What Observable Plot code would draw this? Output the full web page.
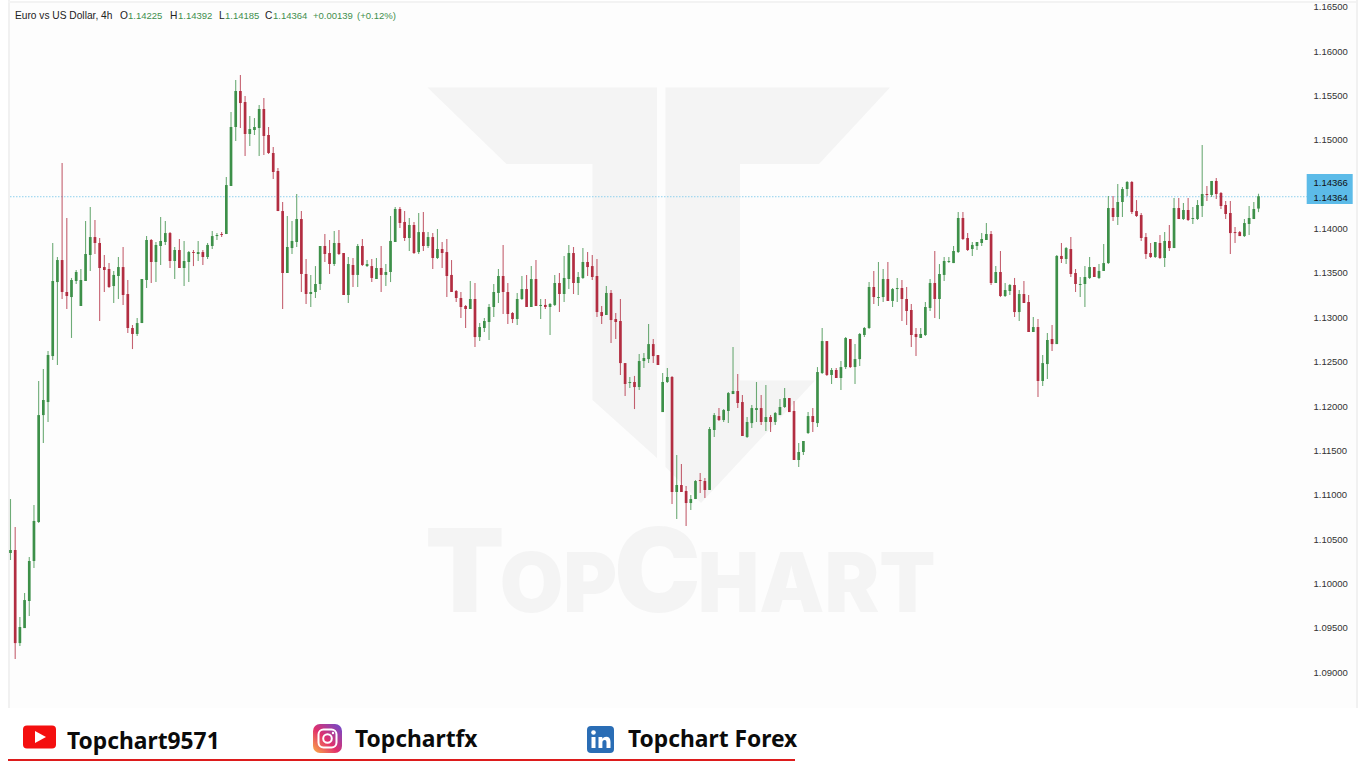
<!DOCTYPE html>
<html>
<head>
<meta charset="utf-8">
<script src="https://cdn.jsdelivr.net/npm/d3@7"></script>
<script src="https://cdn.jsdelivr.net/npm/@observablehq/plot@0.6"></script>
<style>
html,body{margin:0;padding:0;background:#fff;overflow:hidden}
#page{position:relative;width:1366px;height:768px;overflow:hidden;background:#fff}
#bg,#chart,#footer{position:absolute;left:0;top:0}
#chart svg{display:block;background:transparent;max-width:none}
.hd{position:absolute;top:10px;font:9.5px/11px "Liberation Sans",sans-serif;color:#222;white-space:pre}
.hd.g{color:#3f8f4d}
.ft{position:absolute;font:700 22.8px/30px "Noto Sans",sans-serif;color:#0b0b0b;white-space:pre}
</style>
</head>
<body>
<div id="page">
<svg id="bg" width="1366" height="768">
  <rect x="10" y="3" width="1346" height="705" fill="#fdfdfd"/>
  <rect x="8" y="0" width="2" height="708" fill="#f1f1f1"/>
  <rect x="8" y="1" width="1350" height="2" fill="#f3f3f3"/>
  <rect x="1356" y="0" width="2" height="708" fill="#f1f1f1"/>
  <g fill="#f4f4f4">
    <polygon points="427.5,87.5 657,87.5 657,458 592.5,400 592.5,164 506.5,164"/>
    <polygon points="665.5,87.5 890,87.5 819,164 740,164 740,380.5 815,380.5 701,503 665.5,467"/>
    <text x="425" y="612" font-family="Inter,'Noto Sans',sans-serif" font-weight="900" font-size="116">T<tspan font-size="82" dx="-5">OP</tspan><tspan font-size="116" dx="-3">C</tspan><tspan font-size="82" dx="-3">HART</tspan></text>
  </g>
  <rect x="1306.7" y="174" width="46" height="30" fill="#5cbbe8"/>
  <rect x="0" y="708" width="1366" height="60" fill="#fff"/>
</svg>
<div id="chart"></div>
<div id="header">
  <span class="hd" style="left:15px;font-size:10.2px">Euro vs US Dollar, 4h</span>
  <span class="hd" style="left:120px;font-size:10.2px">O</span><span class="hd g" style="left:128px">1.14225</span>
  <span class="hd" style="left:170px;font-size:10.2px">H</span><span class="hd g" style="left:178px">1.14392</span>
  <span class="hd" style="left:219px;font-size:10.2px">L</span><span class="hd g" style="left:225px">1.14185</span>
  <span class="hd" style="left:265px;font-size:10.2px">C</span><span class="hd g" style="left:273px">1.14364</span>
  <span class="hd g" style="left:313px">+0.00139</span><span class="hd g" style="left:357px">(+0.12%)</span>
</div>
<svg id="footer" width="1366" height="768" style="pointer-events:none">
  <rect x="23" y="725.5" width="33" height="23" rx="4" fill="#f40f0f"/>
  <polygon points="35,731 35,743 46,737" fill="#fff"/>
  <defs><linearGradient id="ig" x1="0" y1="1" x2="1" y2="0">
    <stop offset="0" stop-color="#fcb045"/><stop offset="0.45" stop-color="#e1306c"/><stop offset="1" stop-color="#6a4bd0"/>
  </linearGradient></defs>
  <rect x="313" y="724" width="29" height="29" rx="7" fill="url(#ig)"/>
  <rect x="318.5" y="729.5" width="18" height="18" rx="5" fill="none" stroke="#fff" stroke-width="2"/>
  <circle cx="327.5" cy="738.5" r="4.3" fill="none" stroke="#fff" stroke-width="2"/>
  <circle cx="333" cy="733" r="1.2" fill="#fff"/>
  <rect x="587" y="726" width="27" height="27" rx="4" fill="#2a6db5"/>
  <rect x="591.5" y="737" width="4" height="11" fill="#fff"/>
  <circle cx="593.5" cy="732.5" r="2.3" fill="#fff"/>
  <path d="M598.5 737h3.8v1.8c1-1.4 2.3-2.1 3.8-2.1 3 0 4.4 1.9 4.4 5.2V748h-4v-5.6c0-1.7-.6-2.5-1.9-2.5-1.400 0-2.200 1-2.200 2.600V748h-3.900z" fill="#fff"/>
  <rect x="8" y="759" width="787" height="2" fill="#dd1c1c"/>
</svg>
<span class="ft" style="left:67px;top:726px">Topchart9571</span>
<span class="ft" style="left:355px;top:724px">Topchartfx</span>
<span class="ft" style="left:628px;top:724px">Topchart Forex</span>
</div>
<script>
const open=[1.10344,1.10378,1.09329,1.09498,1.09803,1.10254,1.10693,1.11898,1.12045,1.12563,
1.13397,1.13645,1.13285,1.13228,1.13409,1.13127,1.13409,1.13702,1.13904,1.13837,
1.13566,1.13544,1.13352,1.13465,1.13566,1.13262,1.12879,1.12812,1.12935,1.13420,
1.13871,1.13623,1.13803,1.13848,1.13949,1.13634,1.13758,1.13555,1.13623,1.13735,
1.13713,1.13735,1.13679,1.13803,1.13915,1.13938,1.13938,1.14479,1.15144,1.15550,
1.15426,1.15065,1.15110,1.15133,1.15347,1.15054,1.14851,1.14648,1.14197,1.13499,
1.13780,1.13848,1.14107,1.13488,1.13262,1.13285,1.13375,1.13803,1.13724,1.13600,
1.13837,1.13724,1.13251,1.13589,1.13477,1.13803,1.13577,1.13577,1.13431,1.13555,
1.13477,1.13510,1.13848,1.14220,1.14074,1.13893,1.14040,1.13735,1.13960,1.13803,
1.13904,1.13668,1.13769,1.13735,1.13477,1.13296,1.13217,1.13127,1.13093,1.13206,
1.12777,1.12879,1.12947,1.13116,1.13274,1.13465,1.13285,1.13048,1.12980,1.13206,
1.13318,1.13116,1.13431,1.13127,1.13139,1.13116,1.13139,1.13386,1.13262,1.13431,
1.13724,1.13386,1.13443,1.13623,1.13577,1.13465,1.13059,1.13026,1.13274,1.12980,
1.12958,1.12484,1.12259,1.12271,1.12214,1.12507,1.12529,1.12698,1.12575,1.11932,
1.12271,1.12327,1.11031,1.11110,1.11043,1.10907,1.10952,1.11166,1.11155,1.11054,
1.11730,1.11887,1.11842,1.11944,1.12135,1.12169,1.12045,1.11651,1.11808,1.11955,
1.11977,1.11820,1.11876,1.11820,1.11898,1.11989,1.12090,1.11944,1.11392,1.11482,
1.11696,1.11887,1.11808,1.12372,1.12732,1.12350,1.12406,1.12316,1.12439,1.12755,
1.12439,1.12529,1.12800,1.12879,1.13341,1.13217,1.13228,1.13431,1.13184,1.13318,
1.13330,1.13206,1.13082,1.12812,1.12767,1.12800,1.13105,1.13386,1.13206,1.13477,
1.13623,1.13611,1.13735,1.14119,1.13893,1.13769,1.13803,1.13837,1.13871,1.13938,
1.13386,1.13510,1.13240,1.13296,1.13364,1.13059,1.13262,1.13172,1.12834,1.12890,
1.12282,1.12473,1.12755,1.12698,1.13691,1.13657,1.13769,1.13499,1.13364,1.13375,
1.13443,1.13566,1.13443,1.13522,1.13611,1.14231,1.14130,1.14299,1.14445,1.14524,
1.14197,1.14152,1.13904,1.13724,1.13679,1.13837,1.13668,1.13860,1.13780,1.14231,
1.14107,1.14209,1.14107,1.14107,1.14254,1.14389,1.14378,1.14536,1.14400,1.14265,
1.14175,1.13960,1.13960,1.13915,1.14051,1.14107,1.14225];
const close=[1.10378,1.09329,1.09510,1.09814,1.10254,1.10705,1.11898,1.12068,1.12575,1.13409,
1.13645,1.13285,1.13240,1.13420,1.13510,1.13420,1.13713,1.13904,1.13837,1.13555,
1.13533,1.13341,1.13477,1.13566,1.13251,1.12879,1.12812,1.12935,1.13431,1.13871,
1.13623,1.13815,1.13860,1.13949,1.13634,1.13758,1.13555,1.13634,1.13735,1.13724,
1.13735,1.13679,1.13815,1.13915,1.13927,1.13927,1.14490,1.15144,1.15550,1.15414,
1.15065,1.15121,1.15144,1.15347,1.15043,1.14851,1.14637,1.14197,1.13499,1.13792,
1.13860,1.14107,1.13488,1.13262,1.13285,1.13375,1.13803,1.13713,1.13600,1.13837,
1.13713,1.13251,1.13600,1.13477,1.13803,1.13589,1.13600,1.13443,1.13555,1.13477,
1.13510,1.13860,1.14220,1.14062,1.13893,1.14040,1.13724,1.13960,1.13803,1.13904,
1.13668,1.13769,1.13724,1.13465,1.13285,1.13217,1.13116,1.13093,1.13206,1.12777,
1.12890,1.12958,1.13116,1.13285,1.13465,1.13285,1.13037,1.12980,1.13206,1.13318,
1.13116,1.13431,1.13127,1.13139,1.13116,1.13150,1.13386,1.13262,1.13443,1.13724,
1.13386,1.13454,1.13623,1.13566,1.13454,1.13059,1.13014,1.13274,1.12969,1.12947,
1.12484,1.12248,1.12271,1.12214,1.12507,1.12541,1.12698,1.12563,1.12462,1.12271,
1.12327,1.11031,1.11110,1.11031,1.10907,1.10952,1.11155,1.11155,1.11054,1.11741,
1.11898,1.11842,1.11955,1.12146,1.12169,1.12034,1.11662,1.11820,1.11977,1.11977,
1.11820,1.11876,1.11820,1.11921,1.11989,1.12090,1.11932,1.11392,1.11482,1.11606,
1.11887,1.11820,1.12383,1.12732,1.12350,1.12406,1.12316,1.12439,1.12767,1.12439,
1.12529,1.12812,1.12879,1.13341,1.13228,1.13228,1.13431,1.13184,1.13318,1.13330,
1.13206,1.13071,1.12800,1.12777,1.12812,1.13116,1.13386,1.13206,1.13488,1.13634,
1.13634,1.13747,1.14119,1.13882,1.13758,1.13815,1.13848,1.13882,1.13938,1.13386,
1.13510,1.13240,1.13307,1.13364,1.13059,1.13262,1.13161,1.12834,1.12890,1.12282,
1.12484,1.12744,1.12698,1.13691,1.13657,1.13780,1.13488,1.13375,1.13375,1.13454,
1.13566,1.13454,1.13522,1.13611,1.14231,1.14130,1.14299,1.14445,1.14524,1.14186,
1.14141,1.13893,1.13713,1.13679,1.13848,1.13668,1.13860,1.13780,1.14231,1.14107,
1.14209,1.14096,1.14119,1.14265,1.14389,1.14378,1.14536,1.14389,1.14254,1.14164,
1.13949,1.13949,1.13915,1.14062,1.14119,1.14220,1.14364];
const high=[1.10952,1.10637,1.09622,1.09893,1.10299,1.10885,1.12282,1.12417,1.12620,1.13837,
1.13679,1.14738,1.14119,1.13443,1.13533,1.13544,1.14085,1.14242,1.14096,1.13893,
1.13702,1.13611,1.13522,1.13679,1.13792,1.13420,1.12913,1.12992,1.13431,1.13915,
1.13882,1.13848,1.14130,1.14085,1.13960,1.13792,1.13882,1.13860,1.13747,1.13758,
1.13860,1.13758,1.13837,1.13972,1.13949,1.13960,1.14580,1.15313,1.15674,1.15730,
1.15493,1.15268,1.15245,1.15392,1.15471,1.15144,1.14919,1.14682,1.14298,1.14141,
1.14085,1.14389,1.14197,1.13657,1.13477,1.13577,1.13803,1.13938,1.13871,1.13972,
1.13983,1.13724,1.13679,1.13668,1.13826,1.13882,1.13645,1.13657,1.13668,1.13803,
1.13600,1.14141,1.14242,1.14242,1.14197,1.14119,1.14074,1.14175,1.14186,1.13960,
1.13949,1.13994,1.13848,1.13882,1.13645,1.13307,1.13285,1.13139,1.13409,1.13386,
1.12935,1.12992,1.13150,1.13375,1.13544,1.13815,1.13386,1.13059,1.13274,1.13465,
1.13477,1.13577,1.13645,1.13206,1.13206,1.13161,1.13477,1.13499,1.13691,1.13815,
1.13792,1.13510,1.13780,1.13735,1.13702,1.13657,1.13127,1.13352,1.13307,1.13048,
1.13206,1.12484,1.12327,1.12339,1.12586,1.12597,1.12924,1.12755,1.12575,1.12372,
1.12428,1.12339,1.11448,1.11347,1.11099,1.10998,1.11166,1.11245,1.11189,1.11764,
1.11921,1.11977,1.11966,1.12158,1.12665,1.12361,1.12124,1.11876,1.12011,1.12271,
1.12124,1.12237,1.11898,1.11932,1.12079,1.12203,1.12090,1.12056,1.11583,1.11606,
1.11932,1.11977,1.12439,1.12879,1.12732,1.12428,1.12428,1.12507,1.12777,1.12755,
1.12698,1.12823,1.12890,1.13397,1.13522,1.13623,1.13544,1.13623,1.13330,1.13443,
1.13420,1.13341,1.13150,1.12879,1.12879,1.13172,1.13431,1.13747,1.13600,1.13679,
1.13679,1.13803,1.14186,1.14186,1.13949,1.13848,1.13848,1.13949,1.14062,1.13972,
1.13577,1.13747,1.13386,1.13375,1.13443,1.13307,1.13409,1.13251,1.13003,1.12980,
1.12575,1.12823,1.12913,1.13702,1.13837,1.13792,1.13904,1.13544,1.13454,1.13577,
1.13679,1.13566,1.13600,1.13826,1.14366,1.14366,1.14502,1.14468,1.14536,1.14536,
1.14321,1.14175,1.13949,1.13837,1.13848,1.13927,1.13960,1.14040,1.14344,1.14344,
1.14288,1.14344,1.14242,1.14321,1.14941,1.14479,1.14536,1.14570,1.14411,1.14310,
1.14310,1.14017,1.13972,1.14107,1.14253,1.14299,1.14392];
const low=[1.10265,1.09149,1.09296,1.09498,1.09634,1.10175,1.10682,1.11583,1.11820,1.12518,
1.12462,1.13206,1.13093,1.12767,1.13375,1.13127,1.13409,1.13522,1.13713,1.12958,
1.13285,1.13330,1.13161,1.13206,1.13139,1.12823,1.12642,1.12789,1.12935,1.13330,
1.13386,1.13397,1.13589,1.13815,1.13555,1.13431,1.13555,1.13352,1.13397,1.13577,
1.13634,1.13589,1.13657,1.13769,1.13871,1.13904,1.13938,1.14479,1.14986,1.15133,
1.14817,1.14930,1.15054,1.14817,1.14828,1.14840,1.14558,1.14197,1.13093,1.13499,
1.13713,1.13792,1.13285,1.13150,1.13116,1.13217,1.13307,1.13623,1.13488,1.13577,
1.13702,1.13251,1.13161,1.13341,1.13341,1.13577,1.13566,1.13397,1.13431,1.13285,
1.13352,1.13397,1.13848,1.14006,1.13860,1.13747,1.13713,1.13713,1.13747,1.13780,
1.13544,1.13657,1.13555,1.13228,1.13285,1.13172,1.12992,1.12879,1.13093,1.12665,
1.12732,1.12834,1.12744,1.13003,1.13161,1.13037,1.12924,1.12935,1.12913,1.13195,
1.13116,1.13116,1.13127,1.12980,1.13093,1.12800,1.13127,1.13059,1.13172,1.13318,
1.13262,1.13251,1.13431,1.13465,1.13420,1.13003,1.12924,1.13026,1.12710,1.12755,
1.12350,1.12113,1.12203,1.11966,1.12180,1.12428,1.12484,1.12484,1.12462,1.11932,
1.12259,1.10896,1.10727,1.11031,1.10648,1.10828,1.10952,1.11020,1.10964,1.11054,
1.11651,1.11831,1.11820,1.11808,1.12135,1.11977,1.11662,1.11639,1.11752,1.11820,
1.11786,1.11718,1.11707,1.11786,1.11898,1.11977,1.11932,1.11392,1.11313,1.11448,
1.11685,1.11707,1.11764,1.12361,1.12339,1.12248,1.12316,1.12180,1.12417,1.12428,
1.12248,1.12450,1.12777,1.12868,1.13150,1.13127,1.13172,1.13184,1.13116,1.13172,
1.12958,1.12913,1.12665,1.12563,1.12767,1.12789,1.13071,1.12992,1.12980,1.13409,
1.13611,1.13611,1.13724,1.13871,1.13747,1.13691,1.13758,1.13803,1.13871,1.13364,
1.13386,1.13228,1.13228,1.13251,1.13003,1.12958,1.13161,1.12834,1.12834,1.12102,
1.12226,1.12305,1.12620,1.12698,1.13611,1.13600,1.13454,1.13285,1.13228,1.13116,
1.13431,1.13454,1.13431,1.13522,1.13600,1.14085,1.14040,1.14130,1.14366,1.14164,
1.14130,1.13860,1.13657,1.13668,1.13668,1.13657,1.13566,1.13747,1.13780,1.14107,
1.14096,1.14085,1.14051,1.14096,1.14130,1.14310,1.14355,1.14332,1.14220,1.14107,
1.13713,1.13837,1.13915,1.13904,1.13927,1.14107,1.14185];
const tickLevels=[1.09,1.095,1.10,1.105,1.11,1.115,1.12,1.125,1.13,1.135,1.14,1.15,1.155,1.16,1.165];
const currentPrice=[1.14364];
const tagLabels=["1.14366","1.14364"];
const tagLevels=[1.14524,1.14355];

const index=open.map((_,i)=>i);
const up=index.filter(i=>close[i]>=open[i]);
const down=index.filter(i=>close[i]<open[i]);
const GREEN="#3d9049",RED="#b22d41";
const candle=(ids,color)=>[
  Plot.ruleX(ids,{x:i=>i,y1:i=>low[i],y2:i=>high[i],stroke:color,strokeWidth:1.1,strokeOpacity:0.75}),
  Plot.ruleX(ids,{x:i=>i,y1:i=>open[i],y2:i=>close[i],stroke:color,strokeWidth:2.7,strokeLinecap:"butt"})
];
const svg=Plot.plot({
  width:1366,height:710,
  marginTop:0,marginBottom:0,marginLeft:0,marginRight:54,
  style:{background:"transparent",fontFamily:"'Liberation Sans',sans-serif",fontSize:"9.5px",color:"#333"},
  x:{domain:[0,266],range:[10,1258],axis:null},
  y:{domain:[1.08575,1.16575],range:[710,0],axis:null},
  marks:[
    Plot.ruleY(currentPrice,{y:d=>d,stroke:"#8fd0ee",strokeWidth:1,strokeDasharray:"1.5,1.5",insetLeft:10,insetRight:5}),
    ...candle(up,GREEN),
    ...candle(down,RED),
    Plot.axisY(tickLevels,{anchor:"right",tickSize:0,tickPadding:1,tickFormat:d3.format(".5f"),label:null,fill:"#333",fontSize:9.5}),
    Plot.text(tagLabels,{text:d=>d,frameAnchor:"right",textAnchor:"start",dx:1,y:(d,i)=>tagLevels[i],fill:"#111",fontSize:9.5})
  ]
});
document.getElementById("chart").appendChild(svg);
</script>
</body>
</html>
